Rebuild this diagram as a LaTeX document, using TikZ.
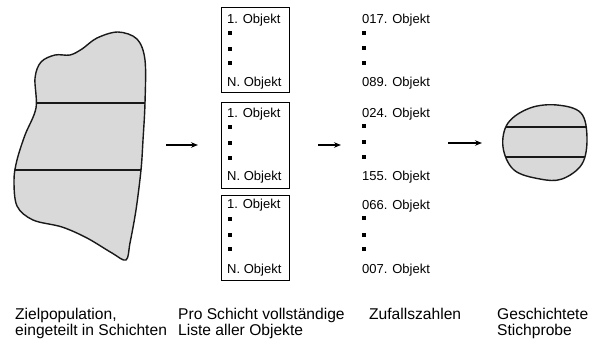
\documentclass[tikz,border=0pt]{standalone}
\usepackage{fontspec}
\setmainfont{Liberation Sans}
\usetikzlibrary{arrows.meta}
\begin{document}
\begin{tikzpicture}[x=1pt,y=-1pt,
  txt/.style={anchor=base west,inner sep=0pt,font=\fontsize{13}{15}\selectfont},
  captxt/.style={anchor=base west,inner sep=0pt,font=\fontsize{15.6}{18}\selectfont},
  dotm/.style={fill=black,minimum size=3.2pt,inner sep=0pt,rectangle},
  listbox/.style={draw=black,line width=1.1pt,inner sep=0pt,anchor=north west,minimum width=68pt},
  arr/.style={line width=1.1pt,-{Stealth[length=7pt,width=5.5pt]}},
  shapeline/.style={line width=1.4pt,draw=black!90}]
\useasboundingbox (0,0) rectangle (592,341);
\definecolor{blobgray}{gray}{0.85}
% population blob
\def\blob{plot[smooth cycle,tension=0.55] coordinates {(118,32) (137,39) (145,60) (145,103) (143,140) (141,170) (136,210) (130,243) (126,260) (112,253) (87,238) (62,227) (33,220) (17,206) (14,180) (17,160) (25,135) (36,108) (35,78) (41,62) (55,55) (70,55) (82,49) (97,38)}}
\fill[blobgray] \blob;
\begin{scope}
\clip \blob;
\draw[shapeline] (0,103) -- (160,103);
\draw[shapeline] (0,170) -- (160,170);
\end{scope}
\draw[shapeline] \blob;
% sample egg
\def\egg{plot[smooth cycle,tension=0.6] coordinates {(557,105) (581,113) (587,138) (582,164) (562,179) (540,179) (514,170) (503,147) (508,123) (530,108)}}
\fill[blobgray] \egg;
\begin{scope}
\clip \egg;
\draw[shapeline] (495,127) -- (595,127);
\draw[shapeline] (495,157) -- (595,157);
\end{scope}
\draw[shapeline] \egg;
% list boxes
\node[listbox,minimum height=85pt] (b1) at (221,7) {};
\node[listbox,minimum height=86pt] (b2) at (221,102) {};
\node[listbox,minimum height=85pt] (b3) at (221,195) {};
% box texts
\node[txt] (b1a) at (227,23) {1. Objekt};
\node[dotm] (b1d1) at (230,33) {};
\node[dotm] (b1d2) at (230,49) {};
\node[dotm] (b1d3) at (230,63) {};
\node[txt] (b1n) at (227,86) {N. Objekt};
\node[txt] (b2a) at (227,117) {1. Objekt};
\node[dotm] (b2d1) at (230,127) {};
\node[dotm] (b2d2) at (230,143) {};
\node[dotm] (b2d3) at (230,158) {};
\node[txt] (b2n) at (227,180) {N. Objekt};
\node[txt] (b3a) at (227,208) {1. Objekt};
\node[dotm] (b3d1) at (230,219) {};
\node[dotm] (b3d2) at (230,235) {};
\node[dotm] (b3d3) at (230,249) {};
\node[txt] (b3n) at (227,273) {N. Objekt};
% random numbers
\node[txt] (r1a) at (362,23) {017. Objekt};
\node[dotm] (r1d1) at (364,33) {};
\node[dotm] (r1d2) at (364,48) {};
\node[dotm] (r1d3) at (364,63) {};
\node[txt] (r1n) at (362,86) {089. Objekt};
\node[txt] (r2a) at (362,117) {024. Objekt};
\node[dotm] (r2d1) at (364,126) {};
\node[dotm] (r2d2) at (364,142) {};
\node[dotm] (r2d3) at (364,157) {};
\node[txt] (r2n) at (362,180) {155. Objekt};
\node[txt] (r3a) at (362,209) {066. Objekt};
\node[dotm] (r3d1) at (364,218) {};
\node[dotm] (r3d2) at (364,235) {};
\node[dotm] (r3d3) at (364,249) {};
\node[txt] (r3n) at (362,273) {007. Objekt};
% arrows
\coordinate (a1s) at (166,145); \coordinate (a1e) at (198,145);
\coordinate (a2s) at (318,145); \coordinate (a2e) at (341,145);
\coordinate (a3s) at (448,143); \coordinate (a3e) at (482,143);
\draw[arr] (a1s) -- (a1e);
\draw[arr] (a2s) -- (a2e);
\draw[arr] (a3s) -- (a3e);
% captions
\node[captxt] (c1a) at (15,319) {Zielpopulation,};
\node[captxt] (c1b) at (15,335) {eingeteilt in Schichten};
\node[captxt] (c2a) at (178,319) {Pro Schicht vollständige};
\node[captxt] (c2b) at (178,335) {Liste aller Objekte};
\node[captxt] (c3a) at (369,319) {Zufallszahlen};
\node[captxt] (c4a) at (497,319) {Geschichtete};
\node[captxt] (c4b) at (497,335) {Stichprobe};
\end{tikzpicture}
\end{document}
